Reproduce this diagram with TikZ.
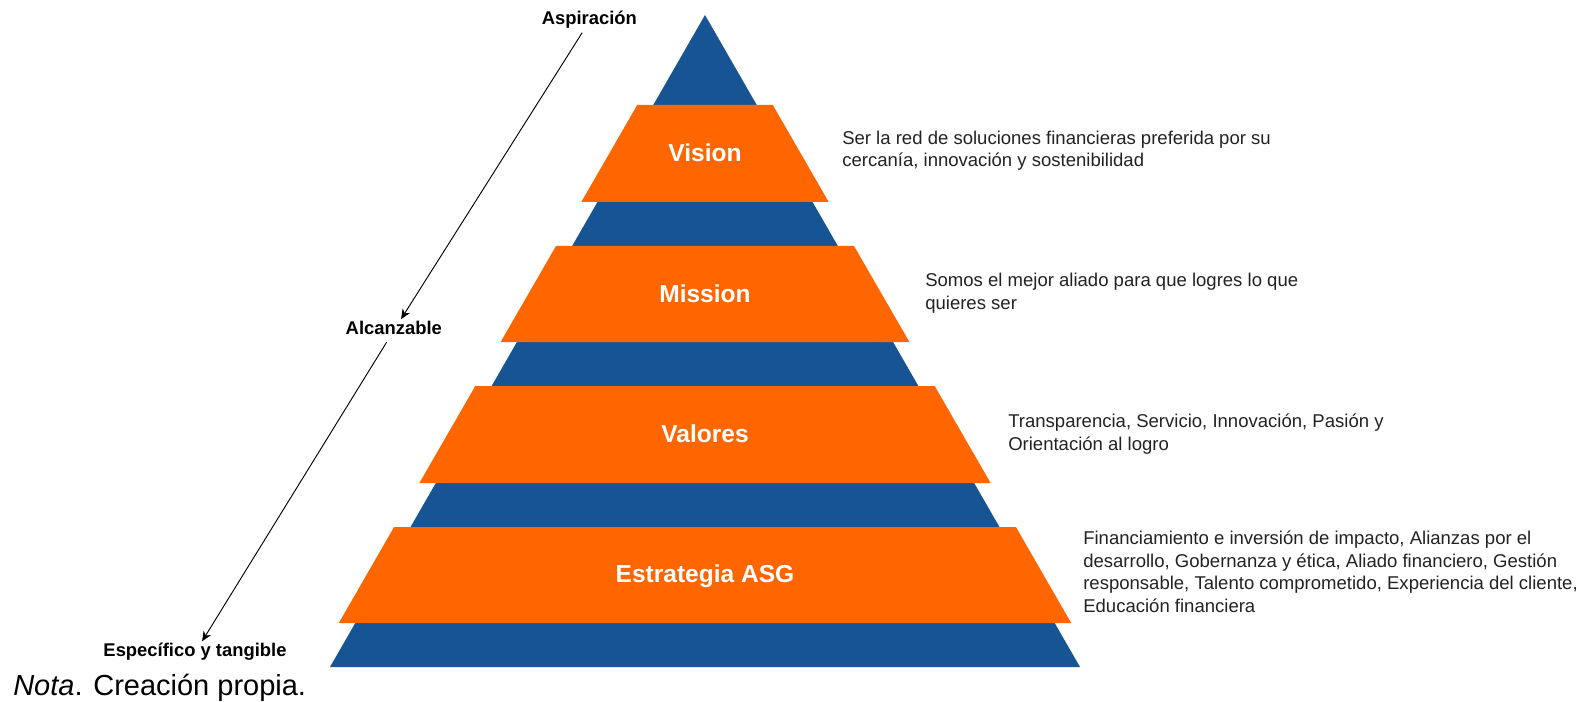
\documentclass[tikz,border=0pt]{standalone}
\usepackage{fontspec}
\setmainfont{Liberation Sans}
\usetikzlibrary{arrows.meta}
\definecolor{pyrblue}{RGB}{23,84,148}
\definecolor{pyrorange}{RGB}{255,102,0}
\definecolor{desctext}{RGB}{34,34,34}

\begin{document}
\begin{tikzpicture}[x=0.75pt, y=-0.75pt, %1 unit = 1 px, y grows downwards
  band/.style={fill=pyrorange},
  bandlabel/.style={anchor=base, text=white, font=\bfseries\fontsize{18.4}{22}\selectfont},
  desc/.style={anchor=base west, align=left, inner sep=0pt, text=desctext, font=\fontsize{13.9}{17}\selectfont},
  level/.style={anchor=base, font=\bfseries\fontsize{13.8}{16}\selectfont, text height=10.1pt, text depth=4.5pt, inner sep=1.1pt}]
\useasboundingbox (0,0) rectangle (1585,702);

\fill[pyrblue] (705,15) -- (1080,667) -- (330,667) -- cycle;

\fill[band] (637.2,105) -- (772.8,105) -- (828.7,202) -- (581.3,202) -- cycle;
\fill[band] (556,246) -- (854,246) -- (909.4,342) -- (500.6,342) -- cycle;
\fill[band] (475.3,386) -- (934.7,386) -- (990.6,483) -- (419.4,483) -- cycle;
\fill[band] (394.1,527) -- (1015.9,527) -- (1071.2,623) -- (338.8,623) -- cycle;

\node[bandlabel] (vis) at (705,161.5) {Vision};
\node[bandlabel] (mis) at (705,303) {Mission};
\node[bandlabel] (val) at (705,442) {Valores};
\node[bandlabel] (asg) at (705,582.5) {Estrategia ASG};

% base = baseline of the last line
\node[desc] (visdesc) at (842,166.7) {Ser la red de soluciones financieras preferida por su\\cercanía, innovación y sostenibilidad};
\node[desc] (misdesc) at (925,309.4) {Somos el mejor aliado para que logres lo que\\quieres ser};
\node[desc] (valdesc) at (1008,450) {Transparencia, Servicio, Innovación, Pasión y\\Orientación al logro};
\node[desc] (asgdesc) at (1083,612.5) {Financiamiento e inversión de impacto, Alianzas por el\\desarrollo, Gobernanza y ética, Aliado financiero, Gestión\\responsable, Talento comprometido, Experiencia del cliente,\\Educación financiera};

\node[level] (asp) at (589.4,25) {Aspiración};
\node[level] (alc) at (393.8,334.3) {Alcanzable};
\node[level] (esp) at (195,656.5) {Específico y tangible};
\foreach \from/\to in {asp/alc, alc/esp}
\draw [-{Stealth[length=7.5pt, width=6.5pt]}, line width=0.7pt] (\from) -- (\to);

\node[anchor=base west, inner sep=0pt, font=\fontsize{21.75}{26}\selectfont] (nota) at (13,695) {\textit{Nota}. Creación propia.};
\end{tikzpicture}
\end{document}
